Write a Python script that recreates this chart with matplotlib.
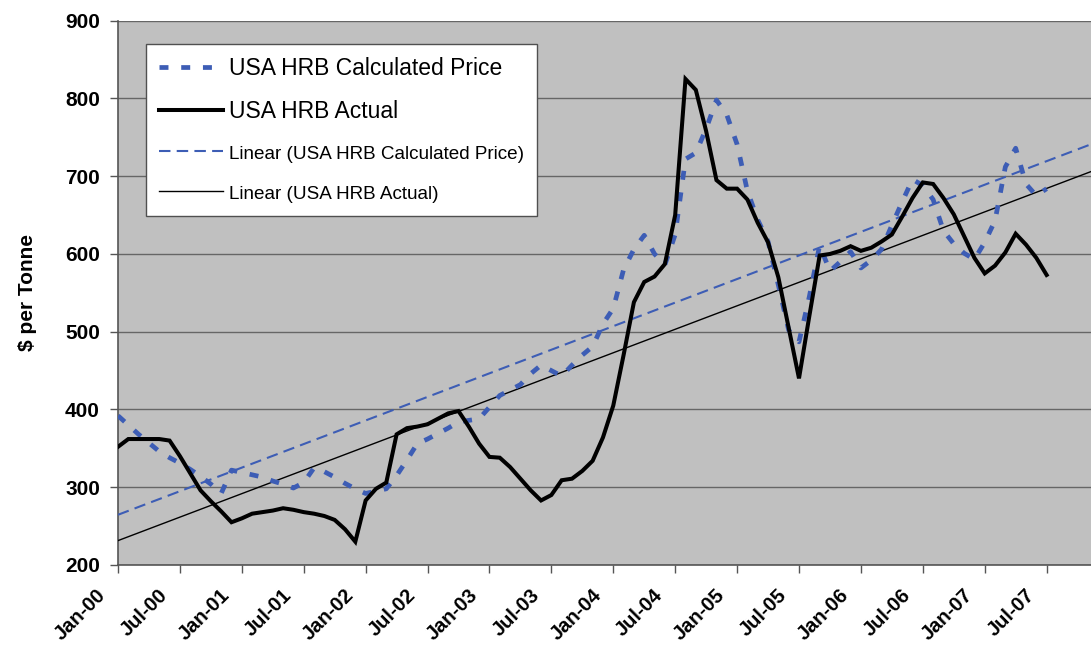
import numpy as np
import matplotlib.pyplot as plt
from matplotlib.transforms import ScaledTranslation

plt.rcParams['font.family'] = ['Liberation Sans', 'DejaVu Sans']

# Datos mensuales Jan-00 .. Jul-07 ($ por tonelada)
meses = np.arange(91)
precio_real = [352, 362, 362, 362, 362, 360, 340, 318, 296, 282, 269, 255,
               260, 266, 268, 270, 273, 271, 268, 266, 263, 258, 246, 230,
               283, 298, 306, 368, 376, 378, 381, 388, 395, 398, 378, 356,
               339, 338, 326, 311, 296, 283, 290, 309, 311, 321, 334, 364,
               405, 470, 538, 564, 571, 587, 650, 825, 811, 758, 695, 684,
               684, 670, 640, 615, 570, 505, 440, 520, 598, 600, 604, 610,
               604, 608, 616, 625, 648, 672, 692, 690, 672, 651, 623, 595,
               575, 585, 602, 626, 612, 595, 573]
precio_calc = [392, 380, 368, 357, 346, 338, 331, 323, 314, 304, 292, 322,
               319, 316, 313, 308, 304, 299, 306, 325, 320, 313, 305, 298,
               292, 295, 298, 315, 335, 356, 362, 369, 376, 384, 386, 388,
               403, 418, 425, 432, 446, 457, 450, 443, 457, 470, 481, 510,
               530, 580, 606, 624, 600, 586, 625, 722, 730, 761, 798, 779,
               741, 681, 644, 616, 560, 502, 487, 545, 611, 578, 590, 603,
               582, 592, 606, 637, 667, 696, 688, 670, 630, 613, 601, 593,
               615, 643, 712, 736, 690, 675, 684]
etiquetas_x = ['Jan-00', 'Jul-00', 'Jan-01', 'Jul-01', 'Jan-02', 'Jul-02',
               'Jan-03', 'Jul-03', 'Jan-04', 'Jul-04', 'Jan-05', 'Jul-05',
               'Jan-06', 'Jul-06', 'Jan-07', 'Jul-07']
pos_x = np.arange(0, 91, 6)

azul = '#3D5DB5'
x_max = 94.3

fig = plt.figure(figsize=(10.91, 6.5), dpi=100)
ax = fig.add_axes([118 / 1091, 1 - 565 / 650, 1 - 118 / 1091, (565 - 20.7) / 650])
ax.set_facecolor('#C0C0C0')

# Lineas de tendencia (regresion lineal)
x_tend = np.array([0, x_max])
k_calc = np.polyfit(meses, precio_calc, 1)
k_real = np.polyfit(meses, precio_real, 1)

ax.plot(meses, precio_calc, color=azul, lw=3.4, linestyle=(0, (1.9, 2.7)),
        label='USA HRB Calculated Price', zorder=4)
ax.plot(meses, precio_real, color='black', lw=2.9, solid_joinstyle='miter',
        label='USA HRB Actual', zorder=5)
ax.plot(x_tend, np.polyval(k_calc, x_tend), color=azul, lw=1.5,
        linestyle=(0, (5.5, 3.0)), label='Linear (USA HRB Calculated Price)', zorder=3)
ax.plot(x_tend, np.polyval(k_real, x_tend), color='black', lw=1.0,
        label='Linear (USA HRB Actual)', zorder=3)

ax.set_xlim(0, x_max)
ax.set_ylim(200, 900)
ax.set_yticks(np.arange(200, 901, 100))
ax.yaxis.grid(True, color='#666666', lw=1.0)
ax.set_axisbelow(True)

# Etiquetas del eje x giradas, desplazadas como en Excel
ax.set_xticks(pos_x)
ax.set_xticklabels([])
desplaza = ScaledTranslation(-15 / 100, -27 / 100, fig.dpi_scale_trans)
for xp, txt in zip(pos_x, etiquetas_x):
    ax.text(xp, 0, txt, transform=ax.get_xaxis_transform() + desplaza,
            rotation=45, ha='right', va='center', rotation_mode='anchor',
            fontsize=14.5, fontweight='bold', clip_on=False)

for t in ax.get_yticklabels():
    t.set_fontsize(15)
    t.set_fontweight('bold')
ax.tick_params(axis='both', length=6, color='#555555', width=1)
ax.tick_params(axis='y', pad=7)

for lado in ['top', 'right']:
    ax.spines[lado].set_visible(False)
for lado in ['left', 'bottom']:
    ax.spines[lado].set_color('#555555')
    ax.spines[lado].set_linewidth(1.2)

ax.set_ylabel('\\$ per Tonne', fontsize=15, fontweight='bold', labelpad=20)

leg = ax.legend(loc='upper left', bbox_to_anchor=(146 / 1091, 1 - 44 / 650),
                bbox_transform=fig.transFigure, borderaxespad=0, frameon=True,
                fancybox=False, framealpha=1, edgecolor='#505050',
                handlelength=2.8, handletextpad=0.28, labelspacing=0.88,
                borderpad=0.55, fontsize=16.5)
leg.get_frame().set_linewidth(1.0)
for i, t in enumerate(leg.get_texts()):
    if i >= 2:
        t.set_fontsize(13.6)

fig.savefig('out.png', dpi=100)
